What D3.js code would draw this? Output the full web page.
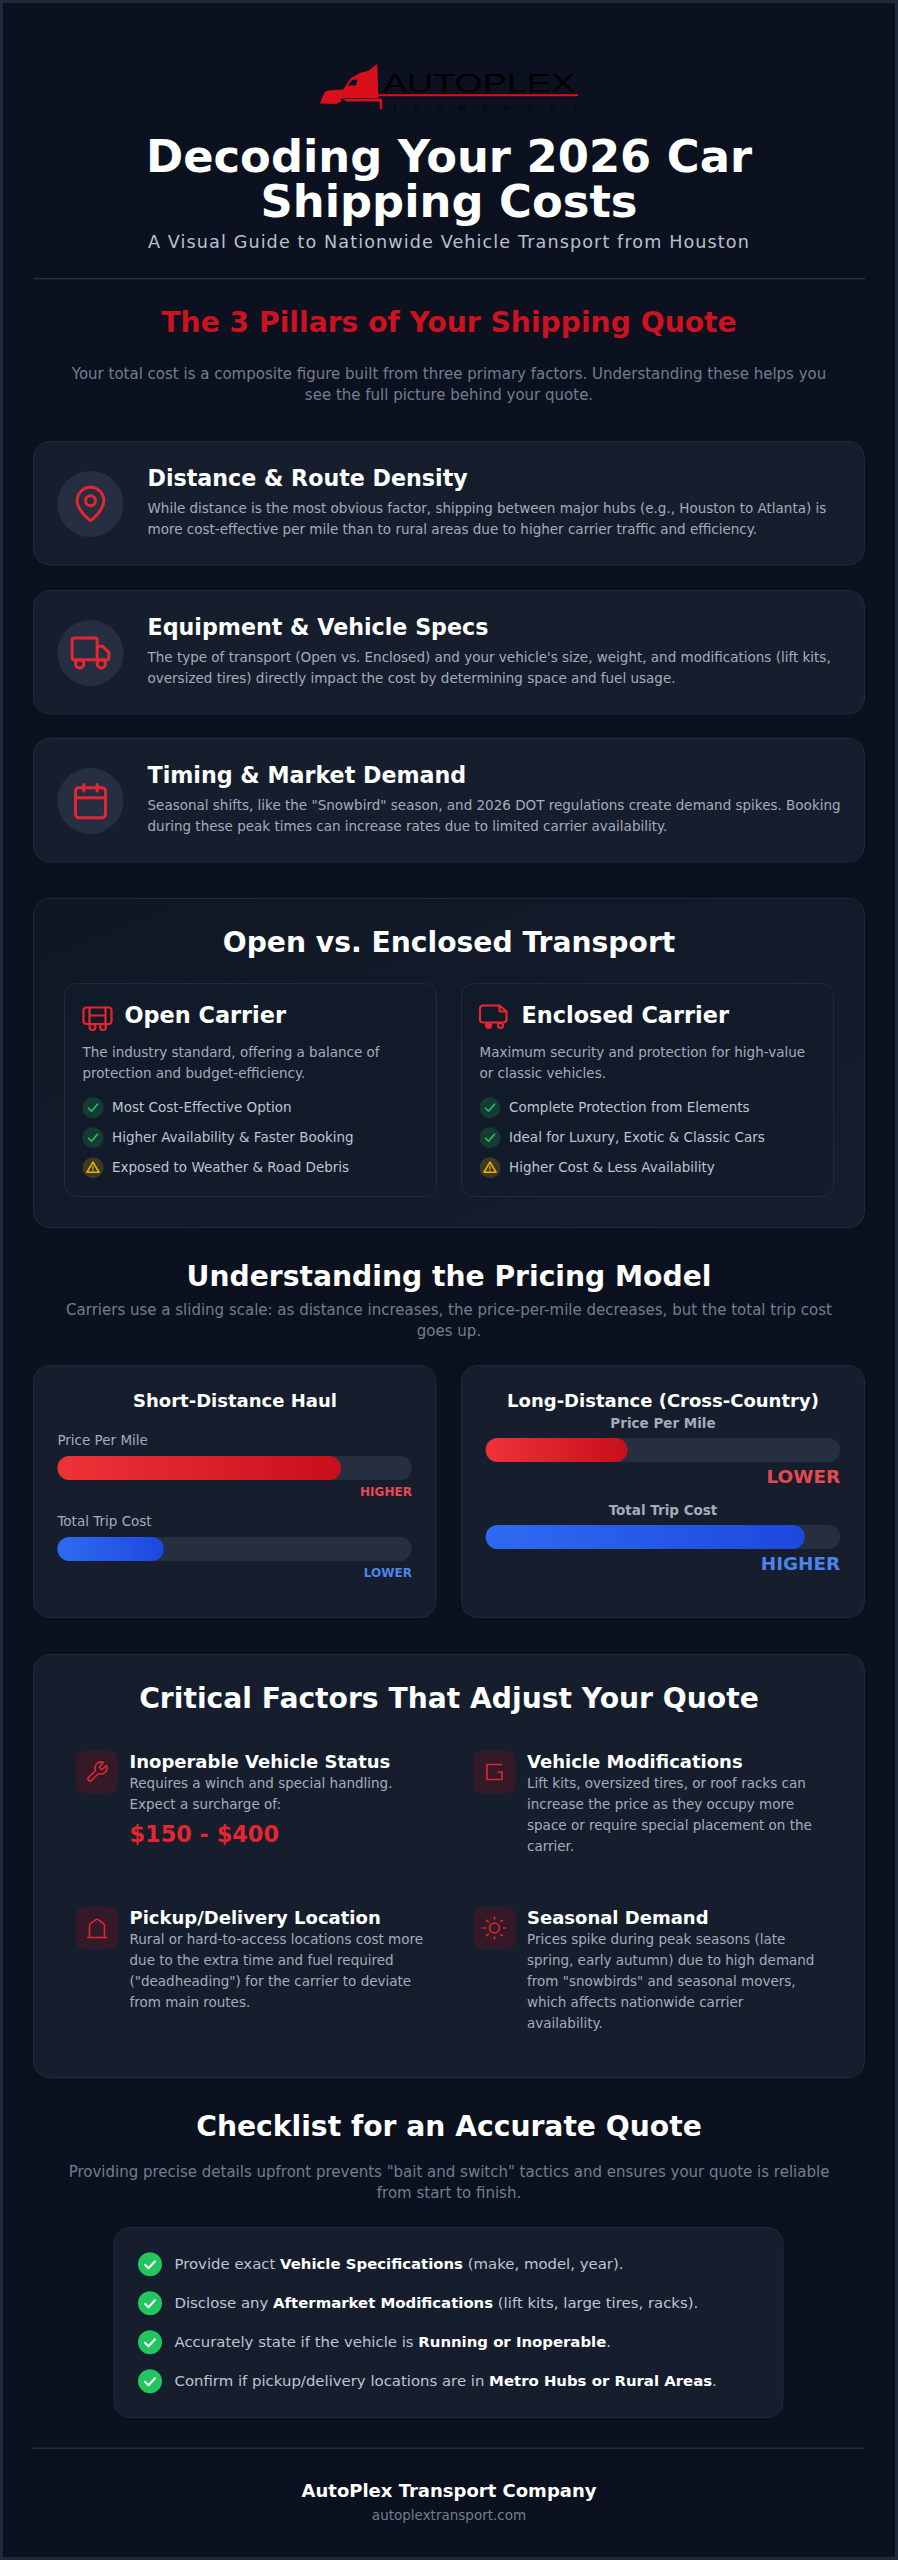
<!DOCTYPE html>
<html><head><meta charset="utf-8">
<script src="https://cdnjs.cloudflare.com/ajax/libs/d3/7.8.5/d3.min.js"></script>
<style>html,body{margin:0;padding:0;background:#0b111e}svg{display:block}text{font-family:"DejaVu Sans",sans-serif}</style>
</head><body><div id="c"></div>
<script>
const titleLines=["Decoding Your 2026 Car","Shipping Costs"];
const subtitle="A Visual Guide to Nationwide Vehicle Transport from Houston";
const pillarsHeading="The 3 Pillars of Your Shipping Quote";
const pillarsIntro=["Your total cost is a composite figure built from three primary factors. Understanding these helps you","see the full picture behind your quote."];
const pillarTitles=["Distance & Route Density","Equipment & Vehicle Specs","Timing & Market Demand"];
const pillarBodies=[
 ["While distance is the most obvious factor, shipping between major hubs (e.g., Houston to Atlanta) is","more cost-effective per mile than to rural areas due to higher carrier traffic and efficiency."],
 ["The type of transport (Open vs. Enclosed) and your vehicle's size, weight, and modifications (lift kits,","oversized tires) directly impact the cost by determining space and fuel usage."],
 ["Seasonal shifts, like the \"Snowbird\" season, and 2026 DOT regulations create demand spikes. Booking","during these peak times can increase rates due to limited carrier availability."]];
const compareHeading="Open vs. Enclosed Transport";
const carrierTitles=["Open Carrier","Enclosed Carrier"];
const carrierBodies=[["The industry standard, offering a balance of","protection and budget-efficiency."],["Maximum security and protection for high-value","or classic vehicles."]];
const carrierPoints=[["Most Cost-Effective Option","Higher Availability & Faster Booking","Exposed to Weather & Road Debris"],["Complete Protection from Elements","Ideal for Luxury, Exotic & Classic Cars","Higher Cost & Less Availability"]];
const carrierKinds=[["ok","ok","warn"],["ok","ok","warn"]];
const pricingHeading="Understanding the Pricing Model";
const pricingIntro=["Carriers use a sliding scale: as distance increases, the price-per-mile decreases, but the total trip cost","goes up."];
const haulTitles=["Short-Distance Haul","Long-Distance (Cross-Country)"];
const barLabels=["Price Per Mile","Total Trip Cost"];
const shortHaulValues=[80,30];
const longHaulValues=[40,90];
const shortHaulTags=["HIGHER","LOWER"];
const longHaulTags=["LOWER","HIGHER"];
const factorsHeading="Critical Factors That Adjust Your Quote";
const factorTitles=["Inoperable Vehicle Status","Vehicle Modifications","Pickup/Delivery Location","Seasonal Demand"];
const factorBodies=[
 ["Requires a winch and special handling.","Expect a surcharge of:"],
 ["Lift kits, oversized tires, or roof racks can","increase the price as they occupy more","space or require special placement on the","carrier."],
 ["Rural or hard-to-access locations cost more","due to the extra time and fuel required","(\"deadheading\") for the carrier to deviate","from main routes."],
 ["Prices spike during peak seasons (late","spring, early autumn) due to high demand","from \"snowbirds\" and seasonal movers,","which affects nationwide carrier","availability."]];
const surcharge="$150 - $400";
const checklistHeading="Checklist for an Accurate Quote";
const checklistIntro=["Providing precise details upfront prevents \"bait and switch\" tactics and ensures your quote is reliable","from start to finish."];
const checklistItems=[
 [["Provide exact ",0],["Vehicle Specifications",1],[" (make, model, year).",0]],
 [["Disclose any ",0],["Aftermarket Modifications",1],[" (lift kits, large tires, racks).",0]],
 [["Accurately state if the vehicle is ",0],["Running or Inoperable",1],[".",0]],
 [["Confirm if pickup/delivery locations are in ",0],["Metro Hubs or Rural Areas",1],[".",0]]];
const footerName="AutoPlex Transport Company";
const footerSite="autoplextransport.com";

const W=898,H=2560;
const RED="#e32630",BG="#0b111e",CARD="#161e2e",LINE="#1f2a3c",GREY="#747d8e",BODY="#a3acba";
const HEAD=28.2,TEXT=13.5,INTRO=15;
const svg=d3.select("#c").append("svg").attr("width",W).attr("height",H).attr("viewBox",`0 0 ${W} ${H}`);
const defs=svg.append("defs");
function grad(id,a,b,vert){const g=defs.append("linearGradient").attr("id",id);
 if(vert)g.attr("x1",0).attr("y1",0).attr("x2",1).attr("y2",1);
 g.append("stop").attr("offset",0).attr("stop-color",a);g.append("stop").attr("offset",1).attr("stop-color",b);}
grad("gr","#ee3338","#c70f1b");grad("gb","#2e6bf0","#1d48de");grad("panel","#0f1624","#161e2e",true);grad("sub","#111a29","#141c2b",true);

svg.append("rect").attr("width",W).attr("height",H).attr("fill","#1e293b");
svg.append("rect").attr("x",3).attr("y",3).attr("width",W-6).attr("height",H-6).attr("fill",BG);

function T(g,x,y,s,size,fill,o={}){return g.append("text").attr("x",x).attr("y",y).text(s).attr("font-size",size).attr("fill",fill)
 .attr("font-weight",o.bold?700:400).attr("text-anchor",o.anchor||"start").attr("letter-spacing",o.ls||null);}
function box(g,x0,y0,x1,y1,r,fill,stroke){return g.append("rect").attr("x",x0+.5).attr("y",y0+.5).attr("width",x1-x0-1).attr("height",y1-y0-1).attr("rx",r).attr("fill",fill).attr("stroke",stroke||"none");}
function lines(g,x,y,arr,lh,size,fill,o){arr.forEach((s,i)=>T(g,x,y+i*lh,s,size,fill,o));}
function icon(g,x,y,scale,draw,sw){const n=g.append("g").attr("transform",`translate(${x},${y}) scale(${scale})`).attr("fill","none").attr("stroke",RED).attr("stroke-width",sw||2).attr("stroke-linecap","round").attr("stroke-linejoin","round");
 draw(n);return n;}
const P=(n,d)=>n.append("path").attr("d",d);
const C=(n,x,y,r)=>n.append("circle").attr("cx",x).attr("cy",y).attr("r",r);

// logo
const logo=svg.append("g");
logo.append("path").attr("fill","#d90f1c").attr("d","M377.3 64 L378.3 95 L378.3 98 L345 98 L340 99 L342 101 L336 104 L320 103.5 L322 98 L325 92 L328 90.5 L343 89.5 L351 78 L361 72.5 L368 71 Z");
logo.append("rect").attr("x",378).attr("y",94.2).attr("width",200).attr("height",2).attr("fill","#d90f1c");
logo.append("path").attr("fill","#d90f1c").attr("d","M343 99 L380 98.5 L382 99 L382.5 109.5 L380 109 L379.5 101.5 L346 101.5 Z");
logo.append("path").attr("fill",BG).attr("d","M348 85.5 L352 80 L357.5 79.5 L356 85.5 Z");
logo.append("text").attr("x",383).attr("y",91.7).text("AUTOPLEX").attr("font-size",25).attr("fill","#000").attr("textLength",192).attr("lengthAdjust","spacingAndGlyphs").style("font-family","'Liberation Sans'");
logo.append("text").attr("x",392).attr("y",111).text("TRANSPORT").attr("font-size",8.5).attr("fill","#04060a").attr("textLength",186).attr("lengthAdjust","spacing").style("font-family","'Liberation Sans'");

// header
titleLines.forEach((s,i)=>T(svg,449,172+i*44.5,s,44.8,"#fff",{bold:1,anchor:"middle"}));
T(svg,449,248,subtitle,17.6,"#b8c1ce",{anchor:"middle",ls:"1.1px"});
svg.append("rect").attr("x",33).attr("y",278).attr("width",832).attr("height",1.5).attr("fill","#232d3f");
T(svg,449,332,pillarsHeading,HEAD,"#cc1220",{bold:1,anchor:"middle"});
lines(svg,449,379,pillarsIntro,21,INTRO,GREY,{anchor:"middle"});

// pillars
const pillarTops=[441,590,738];
const pillarIcons=[
 n=>{P(n,"M20 10c0 6-8 12-8 12s-8-6-8-12a8 8 0 0 1 16 0Z");C(n,12,10,3);},
 n=>{P(n,"M2 3h13a1 1 0 0 1 1 1v12H2a1 1 0 0 1-1-1V4a1 1 0 0 1 1-1zM16 8h3a1 1 0 0 1 .7.3l3 3a1 1 0 0 1 .3.7v3a1 1 0 0 1-1 1h-6");C(n,5.5,18.5,2.5);C(n,18.5,18.5,2.5);},
 n=>{n.append("rect").attr("x",3).attr("y",4).attr("width",18).attr("height",18).attr("rx",2);P(n,"M16 2v4M8 2v4M3 10h18");}];
pillarTitles.forEach((t,i)=>{const y=pillarTops[i],g=svg.append("g");
 box(g,33,y,865,y+124.5,16,CARD,LINE);
 g.append("circle").attr("cx",90.5).attr("cy",y+63).attr("r",33).attr("fill","#262f42");
 icon(g,70.5,y+43,40/24,pillarIcons[i],1.8);
 T(g,147.5,y+45,t,22.2,"#fff",{bold:1});
 lines(g,147.5,y+72,pillarBodies[i],21,TEXT,BODY);
});

// open vs enclosed
box(svg,33,898,865,1228,16,"url(#panel)",LINE);
T(svg,449,952,compareHeading,HEAD,"#fff",{bold:1,anchor:"middle"});
const carrierX=[64,461];
const carrierIcons=[
 n=>{n.append("rect").attr("x",1).attr("y",1).attr("width",28).attr("height",16.5).attr("rx",3);P(n,"M7 1v16.5M23 1v16.5M7 9h16");C(n,10,20.5,3);C(n,20.5,20.5,3);},
 n=>{P(n,"M3.5 1H20l7 6v8a3 3 0 0 1-3 3H3.5a3 3 0 0 1-3-3V4a3 3 0 0 1 3-3zM20 1v6h7");C(n,9,21,2.5).attr("fill",RED);C(n,21,21,2.5);}];
const carrierIconY=[1006.5,1004.5];
carrierTitles.forEach((t,i)=>{const x=carrierX[i],g=svg.append("g");
 box(g,x,983,x+373,1197,12,"url(#sub)",LINE);
 icon(g,x+18.5,carrierIconY[i],1,carrierIcons[i],2.2);
 T(g,x+60.5,1023,t,22.4,"#fff",{bold:1});
 lines(g,x+18.5,1057,carrierBodies[i],21,TEXT,BODY);
 carrierPoints[i].forEach((s,j)=>{const cy=1107.7+j*30,cx=x+29,ok=carrierKinds[i][j]=="ok",col=ok?"#22c55e":"#eab308";
  g.append("circle").attr("cx",cx).attr("cy",cy).attr("r",10.5).attr("fill",col).attr("fill-opacity",.2);
  const n=g.append("g").attr("transform",`translate(${cx},${cy})`).attr("fill","none").attr("stroke",col).attr("stroke-width",1.6).attr("stroke-linecap","round").attr("stroke-linejoin","round");
  if(ok)n.append("path").attr("d","M-4.5 .5L-1.5 3.5L4.5 -3.5");
  else{n.append("path").attr("d","M0 -5.5L6 4.5H-6Z");n.append("path").attr("d","M0 -1.5V1.5M0 3v.1").attr("stroke-width",1.2);}
  T(g,x+48,cy+4,s,TEXT,"#bcc5d1");
 });
});

// pricing
T(svg,449,1286,pricingHeading,HEAD,"#fff",{bold:1,anchor:"middle"});
lines(svg,449,1315,pricingIntro,21,INTRO,GREY,{anchor:"middle"});
const barScaleShort=d3.scaleLinear().domain([0,100]).range([57.4,411.9]);
const barScaleLong=d3.scaleLinear().domain([0,100]).range([485.7,840.2]);
function bar(g,scale,y,v,fill){
 g.append("rect").attr("x",scale(0)).attr("y",y).attr("width",scale(100)-scale(0)).attr("height",24).attr("rx",12).attr("fill","#262f42");
 g.append("rect").attr("x",scale(0)).attr("y",y).attr("width",scale(v)-scale(0)).attr("height",24).attr("rx",12).attr("fill",fill);
}
const fills=["url(#gr)","url(#gb)"],tagCols=["#e8484f","#4a84ea"];
const gs=svg.append("g");
box(gs,33,1365,436.5,1618,16,CARD,LINE);
T(gs,235,1407,haulTitles[0],18,"#fff",{bold:1,anchor:"middle"});
shortHaulValues.forEach((v,i)=>{const y=1456+i*81;
 T(gs,57.4,y-11,barLabels[i],TEXT,BODY);
 bar(gs,barScaleShort,y,v,fills[i]);
 T(gs,411.9,y+40,shortHaulTags[i],12,tagCols[i],{bold:1,anchor:"end"});
});
const gl=svg.append("g");
box(gl,461,1365,865,1618,16,CARD,LINE);
T(gl,663,1407,haulTitles[1],18,"#fff",{bold:1,anchor:"middle"});
longHaulValues.forEach((v,i)=>{const y=1438+i*87;
 T(gl,663,y-10,barLabels[i],TEXT,BODY,{bold:1,anchor:"middle"});
 bar(gl,barScaleLong,y,v,fills[i]);
 T(gl,840.2,y+45,longHaulTags[i],18.4,tagCols[i],{bold:1,anchor:"end"});
});

// factors
box(svg,33,1654,865,2078,16,CARD,LINE);
T(svg,449,1708,factorsHeading,HEAD,"#fff",{bold:1,anchor:"middle"});
const factorIcons=[
 n=>P(n,"M14.7 6.3a1 1 0 0 0 0 1.4l1.6 1.6a1 1 0 0 0 1.4 0l3.77-3.77a6 6 0 0 1-7.94 7.94l-6.91 6.91a2.12 2.12 0 0 1-3-3l6.91-6.91a6 6 0 0 1 7.94-7.94l-3.76 3.76z"),
 n=>P(n,"M19.5 4.5H4.5V19.5H19.5V12H15").attr("stroke-linecap","butt").attr("stroke-linejoin","miter"),
 n=>P(n,"M2.5 21.5h19M4.5 21.5V9.5Q4.5 8.5 5.5 7.7L10.5 3.8Q12 2.8 13.5 3.8L18.5 7.7Q19.5 8.5 19.5 9.5V21.5"),
 n=>{C(n,12,12,5);P(n,"M12 1v2M12 21v2M4.22 4.22l1.42 1.42M18.36 18.36l1.42 1.42M1 12h2M21 12h2M4.22 19.78l1.42-1.42M18.36 5.64l1.42-1.42");}];
const factorPos=[[76,1751],[473.5,1751],[76,1907],[473.5,1907]];
factorTitles.forEach((t,i)=>{const [x,y]=factorPos[i],g=svg.append("g");
 g.append("rect").attr("x",x).attr("y",y).attr("width",42).attr("height",42).attr("rx",8).attr("fill","#341a28");
 icon(g,x+9,y+9,1,factorIcons[i],1.6);
 T(g,x+53.5,y+17,t,18,"#fff",{bold:1});
 lines(g,x+53.5,y+37,factorBodies[i],21,TEXT,BODY);
});
T(svg,129.5,1842,surcharge,22.4,RED,{bold:1});

// checklist
T(svg,449,2136,checklistHeading,HEAD,"#fff",{bold:1,anchor:"middle"});
lines(svg,449,2177,checklistIntro,21,INTRO,GREY,{anchor:"middle"});
box(svg,113.5,2227,783.5,2418,16,CARD,LINE);
checklistItems.forEach((parts,i)=>{const cy=2264.3+i*39,g=svg.append("g");
 g.append("circle").attr("cx",150).attr("cy",cy).attr("r",12).attr("fill","#22c55e");
 g.append("path").attr("d",`M145 ${cy+.5}l3.5 3.5l6.5-7`).attr("fill","none").attr("stroke","#fff").attr("stroke-width",2).attr("stroke-linecap","round").attr("stroke-linejoin","round");
 const t=g.append("text").attr("x",174.5).attr("y",cy+4.7).attr("font-size",14.9);
 parts.forEach(([s,b])=>t.append("tspan").text(s).attr("font-weight",b?700:400).attr("fill",b?"#fff":"#bcc5d1"));
});

// footer
svg.append("rect").attr("x",33).attr("y",2447.5).attr("width",832).attr("height",1.5).attr("fill","#232d3f");
T(svg,449,2497,footerName,18,"#fff",{bold:1,anchor:"middle"});
T(svg,449,2520,footerSite,TEXT,GREY,{anchor:"middle"});
</script></body></html>
